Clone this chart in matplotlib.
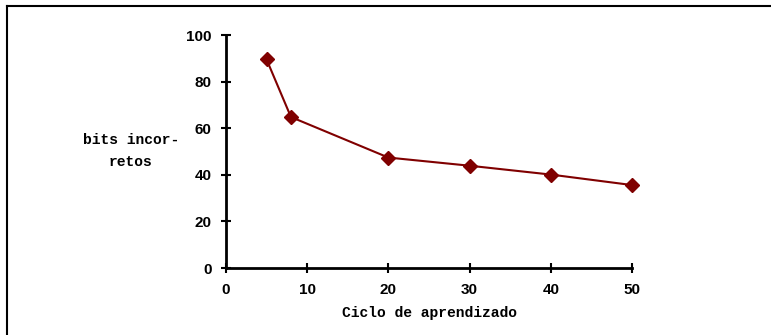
import matplotlib
matplotlib.use("Agg")
import matplotlib.pyplot as plt
from matplotlib.lines import Line2D

ciclos = [5, 8, 20, 30, 40, 50]
bits_incorretos = [89.5, 64.8, 47.4, 43.9, 40.1, 35.6]
xticks = [0, 10, 20, 30, 40, 50]
yticks = [0, 20, 40, 60, 80, 100]

fig = plt.figure(figsize=(7.71, 3.35), dpi=100)
ax = fig.add_axes([0.2931, 0.2, 0.5266, 0.6955])

ax.plot(ciclos, bits_incorretos, color="#800000", lw=1.5, marker="D",
        markersize=7.5, markerfacecolor="#800000", markeredgecolor="#800000",
        clip_on=False)

ax.set_xlim(0, 50)
ax.set_ylim(0, 100)
ax.set_xticks(xticks)
ax.set_yticks(yticks)
for side in ["top", "right"]:
    ax.spines[side].set_visible(False)
for side in ["left", "bottom"]:
    ax.spines[side].set_linewidth(2)
ax.tick_params(direction="inout", length=7, width=1.5, pad=7)
for lab in ax.get_xticklabels() + ax.get_yticklabels():
    lab.set_fontfamily("Liberation Sans")
    lab.set_fontweight("bold")
    lab.set_fontsize(11)

mono = dict(family="Liberation Mono", fontweight="bold", fontsize=10.5)
fig.text(430 / 771, 1 - 313 / 335, "Ciclo de aprendizado", ha="center", va="center", **mono)
fig.text(131 / 771, 1 - 151 / 335, "bits incor-\nretos", ha="center", va="center",
         linespacing=1.75, **mono)

# moldura parcial (esquerda e topo)
fig.add_artist(Line2D([7 / 771, 7 / 771], [0, 1 - 6 / 335], color="black", lw=1.5))
fig.add_artist(Line2D([7 / 771, 1], [1 - 6 / 335, 1 - 6 / 335], color="black", lw=1.5))

fig.savefig("out.png", dpi=100)
